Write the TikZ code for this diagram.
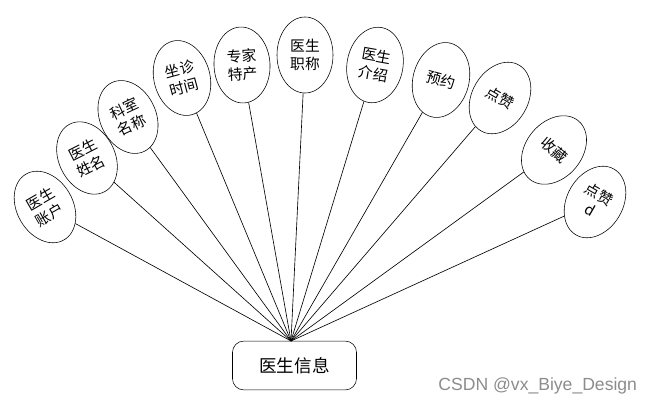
\documentclass[tikz,border=0pt]{standalone}
\usepackage{fontspec}
\setmainfont{Noto Sans CJK SC}
\newfontfamily\wmfont{Liberation Sans}
\usetikzlibrary{shapes.geometric, positioning}

\begin{document}
\begin{tikzpicture}[x=0.025cm, y=-0.025cm,
        attr/.style={ellipse, draw, minimum width=1.4cm, minimum height=1.9cm, inner sep=0pt, align=center, font=\fontsize{10.5}{13}\selectfont},
        ent/.style={rectangle, draw, rounded corners=8pt, minimum width=3.1cm, minimum height=1.22cm, font=\fontsize{12.5}{15}\selectfont},
        link/.style={draw, line width=0.45pt}
    ]
        \useasboundingbox (0,0) rectangle (656,407);
        \node[ent] (DI) at (294.5,365.5) {医生信息};
        \coordinate (H) at (291,341);
        \node[attr, rotate=30] (A1) at (45,207) {医生\\账户};
        \node[attr, rotate=27] (A2) at (87,158) {医生\\姓名};
        \node[attr, rotate=25] (A3) at (128,117) {科室\\名称};
        \node[attr, rotate=15] (A4) at (182,78) {坐诊\\时间};
        \node[attr, rotate=3] (A5) at (242,65) {专家\\特产};
        \node[attr] (A6) at (305,55) {医生\\职称};
        \node[attr, rotate=-10] (A7) at (375,65) {医生\\介绍};
        \node[attr, rotate=-15] (A8) at (441,80) {预约};
        \node[attr, rotate=-30] (A9) at (500,98) {点赞};
        \node[attr, rotate=-40] (A10) at (554,150) {收藏};
        \node[attr, rotate=-30] (A11) at (595,202) {点赞\\d};
        \draw[link] (A1) -- (H);
        \draw[link] (A2) -- (H);
        \draw[link] (A3) -- (H);
        \draw[link] (A4) -- (H);
        \draw[link] (A5) -- (H);
        \draw[link] (A6) -- (H);
        \draw[link] (A7) -- (H);
        \draw[link] (A8) -- (H);
        \draw[link] (A9) -- (H);
        \draw[link] (A10) -- (H);
        \draw[link] (A11) -- (H);
        \node[font=\wmfont\fontsize{12.5}{14}\selectfont, text=black!45, anchor=east] (WM) at (642,386) {CSDN @vx\_Biye\_Design};
    \end{tikzpicture}
\end{document}
